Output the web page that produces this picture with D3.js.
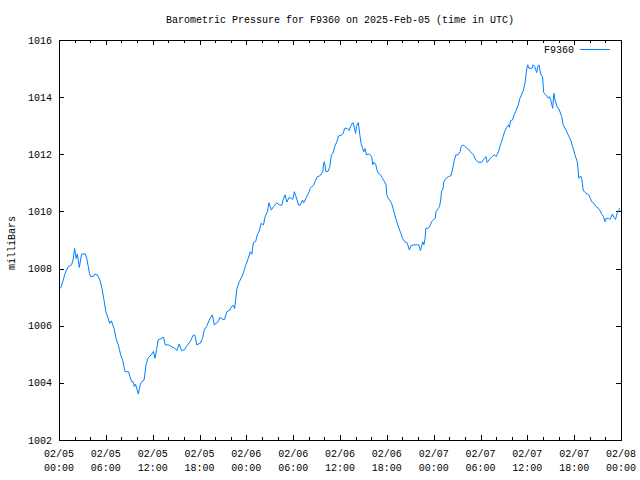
<!DOCTYPE html>
<html>
<head>
<meta charset="utf-8">
<script src="https://cdn.jsdelivr.net/npm/d3@7"></script>
<style>
  html, body { margin: 0; padding: 0; background: #fff; }
  text { font-family: "Liberation Mono", "DejaVu Sans Mono", monospace; font-size: 10px; fill: #000; }
</style>
</head>
<body>
<svg id="chart" width="640" height="480"></svg>
<script>
const title = "Barometric Pressure for F9360 on 2025-Feb-05 (time in UTC)";
const yLabel = "milliBars";
const seriesName = "F9360";
const startTime = "2025-02-05T00:00:00Z";
const endTime = "2025-02-08T00:00:00Z";
const yTicks = [1002, 1004, 1006, 1008, 1010, 1012, 1014, 1016];

// hours after 2025-02-05 00:00 UTC
const hours = [
0.2,0.55,0.77,1.2,1.6,1.8,2.0,2.2,2.35,2.6,2.9,3.4,3.6,3.9,4.05,4.4,4.6,4.9,5.25,5.5,
5.76,6.0,6.3,6.5,6.7,7.05,7.3,7.6,7.9,8.15,8.45,8.9,9.1,9.3,9.5,9.65,9.8,10.16,10.4,10.6,
10.9,11.15,11.4,11.9,12.1,12.3,12.5,12.7,13.15,13.4,13.6,14.0,14.4,14.9,15.1,15.4,15.7,16.1,16.3,16.8,
17.2,17.4,17.65,18.1,18.4,18.6,18.9,19.35,19.65,19.9,20.4,20.6,21.0,21.2,21.5,21.9,22.1,22.3,22.5,22.8,
23.1,23.5,23.9,24.25,24.5,24.7,24.9,25.2,25.4,25.7,25.9,26.2,26.4,26.7,26.9,27.2,27.5,27.9,28.3,28.55,
28.7,28.95,29.2,29.5,29.8,29.95,30.15,30.3,30.5,30.7,30.9,31.2,31.35,31.7,32.05,32.2,32.6,32.8,33.1,33.4,
33.8,33.9,34.0,34.2,34.5,34.7,34.9,35.1,35.35,35.6,35.8,36.2,36.4,36.6,36.9,37.2,37.35,37.55,37.7,37.9,
38.0,38.1,38.35,38.55,38.7,38.9,39.05,39.2,39.4,39.6,39.8,40.05,40.2,40.35,40.6,40.7,40.9,41.2,41.45,41.7,
41.9,42.0,42.2,42.4,42.6,42.8,43.05,43.3,43.5,43.8,44.0,44.3,44.6,44.9,45.05,45.4,45.85,46.1,46.2,46.3,
46.5,46.6,46.75,46.9,47.0,47.3,47.5,47.75,48.0,48.2,48.3,48.6,48.75,48.9,49.0,49.2,49.3,49.6,49.9,50.2,
50.4,50.6,50.85,51.1,51.4,51.5,51.8,52.0,52.3,52.5,52.7,53.1,53.4,53.7,54.15,54.4,54.7,54.85,55.2,55.55,
55.8,56.0,56.3,56.5,56.7,56.9,57.1,57.35,57.6,57.7,57.85,58.1,58.3,58.5,58.85,59.05,59.3,59.5,59.7,59.9,
60.05,60.2,60.6,60.75,60.95,61.2,61.35,61.5,61.7,61.95,62.1,62.3,62.7,62.85,63.0,63.25,63.4,63.55,63.8,64.1,
64.4,64.6,64.95,65.25,65.55,65.8,66.1,66.4,66.6,66.85,67.0,67.15,67.4,67.7,67.9,68.25,68.55,68.8,69.1,69.3,
69.5,69.75,69.95,70.1,70.4,70.6,70.9,71.15,71.3,71.5,71.7,71.8
];

const pressure = [
1007.31,1007.6,1007.83,1008.07,1008.13,1008.3,1008.71,1008.35,1008.51,1008.04,1008.51,1008.51,1008.3,1007.83,1007.72,1007.72,1007.81,1007.78,1007.6,1007.31,
1006.9,1006.49,1006.26,1006.08,1006.17,1005.91,1005.56,1005.33,1004.98,1004.8,1004.39,1004.39,1004.22,1004.04,1004.04,1003.87,1003.96,1003.61,1003.93,1004.04,
1004.1,1004.63,1004.86,1005.01,1005.1,1004.86,1005.16,1005.5,1005.56,1005.6,1005.33,1005.33,1005.27,1005.2,1005.13,1005.36,1005.13,1005.16,1005.27,1005.44,
1005.67,1005.67,1005.33,1005.39,1005.56,1005.85,1005.97,1006.26,1006.38,1006.03,1006.14,1006.29,1006.22,1006.22,1006.49,1006.55,1006.67,1006.72,1006.6,1007.31,
1007.54,1007.75,1008.1,1008.36,1008.59,1008.5,1008.91,1008.95,1009.18,1009.35,1009.58,1009.53,1009.81,1009.99,1010.3,1010.05,1010.17,1010.3,1010.22,1010.22,
1010.4,1010.58,1010.33,1010.49,1010.45,1010.42,1010.69,1010.57,1010.4,1010.22,1010.22,1010.4,1010.3,1010.49,1010.69,1010.81,1010.92,1011.04,1011.22,1011.24,
1011.39,1011.68,1011.74,1011.39,1011.41,1011.57,1011.98,1012.04,1012.29,1012.44,1012.64,1012.67,1012.73,1012.91,1012.91,1012.83,1012.97,1013.08,1013.1,1012.85,
1012.73,1012.97,1013.11,1012.67,1012.38,1012.2,1012.09,1012.2,1011.98,1012.0,1012.0,1011.92,1011.63,1011.72,1011.63,1011.48,1011.34,1011.28,1011.16,1011.04,
1010.92,1010.58,1010.45,1010.38,1010.28,1010.11,1009.85,1009.62,1009.45,1009.23,1009.06,1008.94,1008.9,1008.65,1008.79,1008.83,1008.83,1008.83,1008.71,1008.63,
1008.83,1008.94,1008.83,1009.06,1009.41,1009.41,1009.49,1009.64,1009.72,1009.76,1009.99,1010.11,1010.17,1010.4,1010.69,1010.8,1011.04,1011.16,1011.22,1011.25,
1011.45,1011.74,1011.98,1011.98,1012.09,1012.27,1012.33,1012.27,1012.2,1012.17,1012.09,1011.98,1011.8,1011.72,1011.72,1011.82,1011.92,1011.71,1011.84,1011.94,
1011.98,1011.92,1012.09,1012.27,1012.44,1012.62,1012.8,1012.94,1013.03,1012.94,1013.18,1013.2,1013.38,1013.49,1013.73,1013.96,1014.11,1014.25,1014.48,1014.95,
1015.13,1015.01,1015.01,1015.13,1015.07,1014.86,1015.07,1015.13,1014.81,1014.71,1014.16,1014.1,1013.96,1014.02,1013.9,1013.61,1014.13,1013.9,1013.67,1013.55,
1013.32,1013.03,1012.85,1012.67,1012.5,1012.27,1011.98,1011.74,1011.16,1011.24,1011.1,1010.75,1010.66,1010.61,1010.57,1010.34,1010.28,1010.17,1010.11,1010.03,
1009.92,1009.82,1009.64,1009.76,1009.76,1009.72,1009.91,1009.76,1009.72,1009.94,1009.99,1010.11
];

const svg = d3.select("#chart");
const L = 59, R = 621, T = 40, B = 440;
const t0 = new Date(startTime), t1 = new Date(endTime);
const x = d3.scaleUtc().domain([t0, t1]).range([L, R]);
const y = d3.scaleLinear().domain([1002, 1016]).range([B, T]);

const data = hours.map((h, i) => ({ t: new Date(t0.getTime() + h * 3600000), v: pressure[i] }));

// Title
svg.append("text").attr("x", 340).attr("y", 23).attr("text-anchor", "middle").text(title);

// Axes (ticks pointing inward, mirrored)
const majorTimes = d3.utcHour.every(6).range(t0, new Date(t1.getTime() + 1));
const minorTimes = d3.utcHour.every(2).range(t0, new Date(t1.getTime() + 1));
const fmt1 = d3.utcFormat("%m/%d"), fmt2 = d3.utcFormat("%H:%M");

const gxb = svg.append("g").attr("transform", `translate(0,${B})`)
  .call(d3.axisBottom(x).tickValues(minorTimes).tickSize(-3).tickFormat(""));
const gxbM = svg.append("g").attr("transform", `translate(0,${B})`)
  .call(d3.axisBottom(x).tickValues(majorTimes).tickSize(-5).tickFormat(""));
const gxt = svg.append("g").attr("transform", `translate(0,${T})`)
  .call(d3.axisTop(x).tickValues(minorTimes).tickSize(-3).tickFormat(""));
const gxtM = svg.append("g").attr("transform", `translate(0,${T})`)
  .call(d3.axisTop(x).tickValues(majorTimes).tickSize(-5).tickFormat(""));
const gyl = svg.append("g").attr("transform", `translate(${L},0)`)
  .call(d3.axisLeft(y).tickValues(yTicks).tickSize(-5).tickFormat(""));
const gyr = svg.append("g").attr("transform", `translate(${R},0)`)
  .call(d3.axisRight(y).tickValues(yTicks).tickSize(-5).tickFormat(""));
[gxb, gxbM, gxt, gxtM, gyl, gyr].forEach(g => {
  g.select(".domain").remove();
  g.selectAll("line").attr("stroke", "#000").attr("shape-rendering", "crispEdges");
});

// X tick labels (two lines)
const xl = svg.append("g");
majorTimes.forEach(d => {
  const t = xl.append("text").attr("x", x(d)).attr("text-anchor", "middle");
  t.append("tspan").attr("x", x(d)).attr("y", 457).text(fmt1(d));
  t.append("tspan").attr("x", x(d)).attr("y", 471).text(fmt2(d));
});

// Y tick labels
svg.append("g").selectAll("text").data(yTicks).join("text")
  .attr("x", 52).attr("y", d => y(d)).attr("dy", "0.35em")
  .attr("text-anchor", "end").text(d => d);

// Y axis label
svg.append("text").attr("transform", "translate(15,243) rotate(-90)")
  .attr("text-anchor", "middle").text(yLabel);

// Frame
svg.append("rect").attr("x", L).attr("y", T).attr("width", R - L).attr("height", B - T)
  .attr("fill", "none").attr("stroke", "#000").attr("shape-rendering", "crispEdges");

// Data line
const line = d3.line().x(d => x(d.t)).y(d => y(d.v));
svg.append("path").datum(data).attr("d", line)
  .attr("fill", "none").attr("stroke", "#0080ff").attr("stroke-width", 1);

// Legend
svg.append("text").attr("x", 574).attr("y", 49).attr("dy", "0.35em")
  .attr("text-anchor", "end").text(seriesName);
svg.append("line").attr("x1", 580).attr("x2", 610).attr("y1", 49.5).attr("y2", 49.5)
  .attr("stroke", "#0080ff").attr("stroke-width", 1).attr("shape-rendering", "crispEdges");
</script>
</body>
</html>
